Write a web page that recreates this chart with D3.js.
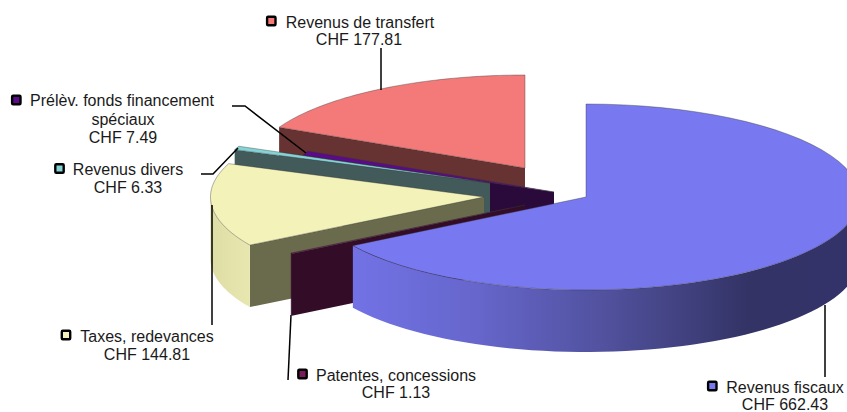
<!DOCTYPE html>
<html>
<head>
<meta charset="utf-8">
<script src="https://cdn.jsdelivr.net/npm/d3@7"></script>
<style>
  html, body { margin: 0; padding: 0; background: #fff; overflow: hidden; }
  text { font-family: "Liberation Sans", Arial, sans-serif; font-size: 16px; fill: #1a1a1a; }
</style>
</head>
<body>
<svg id="chart" width="847" height="412"></svg>
<script>
// values in clockwise order from 12 o'clock
const categories = ['Revenus fiscaux', 'Patentes, concessions', 'Taxes, redevances', 'Revenus divers', 'Prélèv. fonds financement', 'Revenus de transfert'];
const values = [662.43, 1.13, 144.81, 6.33, 7.49, 177.81];
const valueLabels = ['CHF 662.43', 'CHF 1.13', 'CHF 144.81', 'CHF 6.33', 'CHF 7.49', 'CHF 177.81'];

// layout, one entry per slice
const apexes = [[586, 197], [525, 205], [484, 197], [490, 183], [554, 192], [525, 168]];
const topColors = ['#7878f0', '#7a1a5c', '#f3f2b8', '#84d4d6', '#5c0a8c', '#f47a7a'];
const wallColors = ['#33336a', '#330c28', '#6a6a4c', '#425a5a', '#2a0a3a', '#663232'];
const rimFills = ['url(#blueRim)', '#330c28', 'url(#yellowRim)', '#425a5a', '#2a0a3a', '#663232'];
const labelLines = [
  [[785, 393, categories[0]], [785, 410, valueLabels[0]]],
  [[396, 381, categories[1]], [396, 398, valueLabels[1]]],
  [[147, 342, categories[2]], [147, 360, valueLabels[2]]],
  [[128, 175, categories[3]], [128, 193, valueLabels[3]]],
  [[122, 106, categories[4]], [123, 125, 'spéciaux'], [123, 143, valueLabels[4]]],
  [[360, 28, categories[5]], [359, 45, valueLabels[5]]]
];
const markers = [[712.3, 386], [302.5, 374], [66, 335], [59.5, 168.5], [16.3, 100], [271.3, 21]];
const leaders = [
  [[825, 305], [825, 377]],
  [[288, 380], [291, 315]],
  [[212, 205], [212, 325]],
  [[201, 174], [213, 174], [238, 148]],
  [[232, 106], [245, 106], [306, 153]],
  [[381, 48], [381, 90]]
];

let rx = 273.5,
    ry = 93,
    depth = 62;

let svg = d3.select('#chart');

let defs = svg.append('defs');
let blueRim = defs.append('linearGradient')
    .attr('id', 'blueRim')
    .attr('gradientUnits', 'userSpaceOnUse')
    .attr('x1', 352).attr('x2', 847).attr('y1', 0).attr('y2', 0);
[[0, '#7272e6'], [0.25, '#6666cc'], [0.5, '#5252a0'], [0.7, '#3e3e7a'], [0.8, '#333366'], [1, '#33336a']]
    .forEach(s => blueRim.append('stop').attr('offset', s[0]).attr('stop-color', s[1]));
let yellowRim = defs.append('linearGradient')
    .attr('id', 'yellowRim')
    .attr('gradientUnits', 'userSpaceOnUse')
    .attr('x1', 211).attr('x2', 250).attr('y1', 0).attr('y2', 0);
[[0, '#dedda6'], [1, '#e8e7b0']]
    .forEach(s => yellowRim.append('stop').attr('offset', s[0]).attr('stop-color', s[1]));

let arcs = d3.pie().sort(null).startAngle(0).endAngle(2 * Math.PI)(values);

let pt = (apex, a, dy = 0) => [apex[0] + rx * Math.sin(a), apex[1] - ry * Math.cos(a) + dy];

let sample = (a0, a1) => d3.range(0, 61).map(i => a0 + (a1 - a0) * i / 60);
let line = d3.line();

// slices paint back to front
let drawOrder = [5, 4, 3, 2, 1, 0];

drawOrder.forEach(i => {
  let d = arcs[i], apex = apexes[i], a0 = d.startAngle, a1 = d.endAngle;
  let g = svg.append('g');

  // cut face on the start edge, fiscaux has it out of sight
  if (i !== 0) {
    let e = pt(apex, a0);
    g.append('path')
        .attr('d', line([apex, e, [e[0], e[1] + depth], [apex[0], apex[1] + depth]]) + 'Z')
        .attr('fill', wallColors[i]);
  }

  // outer rim, only the part facing the viewer
  let r0 = Math.max(a0, Math.PI / 2), r1 = Math.min(a1, 1.5 * Math.PI);
  if (r1 > r0) {
    let front = sample(r0, r1).map(a => pt(apex, a));
    let back = sample(r1, r0).map(a => pt(apex, a, depth));
    g.append('path')
        .attr('d', line(front.concat(back)) + 'Z')
        .attr('fill', rimFills[i]);
  }

  // top face
  g.append('path')
      .attr('d', line([apex].concat(sample(a0, a1).map(a => pt(apex, a)))) + 'Z')
      .attr('fill', topColors[i])
      .attr('stroke', '#333')
      .attr('stroke-opacity', 0.55)
      .attr('stroke-width', 0.7)
      .attr('stroke-linejoin', 'round');
});

svg.selectAll('path.leader')
    .data(leaders)
    .enter()
    .append('path')
    .attr('class', 'leader')
    .attr('d', d => line(d))
    .attr('fill', 'none')
    .attr('stroke', '#000')
    .attr('stroke-width', 1.5);

let marker = svg.selectAll('g.marker')
    .data(markers)
    .enter()
    .append('g')
    .attr('class', 'marker')
    .attr('transform', d => `translate(${d[0]},${d[1]})`);

marker.append('rect')
    .attr('x', -4.2).attr('y', -4.2)
    .attr('width', 8.4).attr('height', 8.4)
    .attr('rx', 1)
    .attr('fill', (d, i) => topColors[i])
    .attr('stroke', '#000')
    .attr('stroke-width', 2.4);

labelLines.forEach(lines => {
  svg.selectAll(null)
      .data(lines)
      .enter()
      .append('text')
      .attr('x', d => d[0])
      .attr('y', d => d[1])
      .attr('text-anchor', 'middle')
      .text(d => d[2]);
});
</script>
</body>
</html>
